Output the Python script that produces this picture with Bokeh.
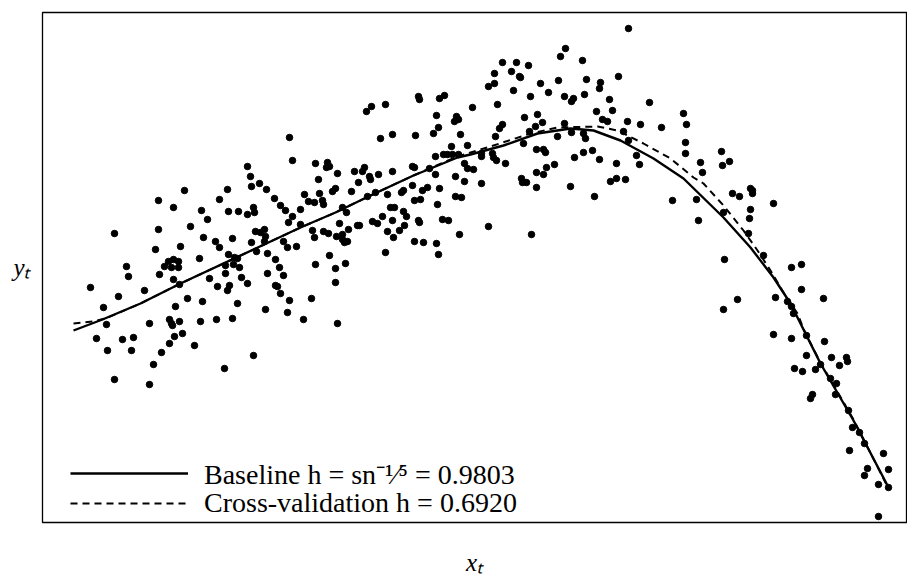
from bokeh.plotting import figure
from bokeh.models import Range1d, Legend, LegendItem, FixedTicker
from bokeh.embed import file_html
from bokeh.resources import INLINE

x_t = [247,250,72,84,116,116,131,142,113,138,148,159,165,161,157,126,131,136,122,129,
       136,173,177,177,185,186,190,196,205,208,209,217,224,211,212,205,213,218,222,209,
       223,222,214,225,233,237,186,192,195,183,191,197,232,238,243,250,258,246,241,245,
       254,262,266,272,277,280,281,273,276,285,287,284,295,290,293,258,270,272,281,286,
       294,287,273,293,297,
       86,48,76,61,64,54,65,80,91,89,72,107,111,119,102,107,117,131,137,133,
       127,129,130,137,132,140,127,152,145,160,158,167,175,174,190,182,183,185,187,199,
       205,195,211,223,225,233,235,241,238,247,245,261,269,293,295,303,
       586,518,523,540,460,474,486,452,469,477,478,446,452,471,488,498,506,516,522,529,
       531,542,544,557,558,567,570,576,376,377,397,402,324,329,343,430,455,394,414,416,
       412,396,391,338,350,373,482,495,500,493,487,460,457,453,554,560,565,585,581,586,
       522,515,529,541,543,418,425,409,405,410,416,393,401,481,494,501,503,532,541,550,
       557,574,439,439,450,451,454,422,425,431,463,512,504,501,494,413,422,439,479,480,
       484,494,528,552,568,574,583,370,372,387,393,350,336,322,320,312,316,327,328,370,
       385,380,397,361,359,345,333,325,309,413,419,395,372,378,348,352,340,361,364,350,
       330,335,315,317,304,300,376,377,400,406,446,489,417,345,357,362,351,372,381,394,
       396,343,306,300,300,305,302,
       607,598,619,641,644,643,643,594,597,679,680,687,658,660,630,654,656,681,690,697,
       708,710,710,731,708,707,706,721,682,749,759,
       759,781,733,695,681,745,749,751,731,749,764,782,764,789,804,805,797,778,773,752,
       760,788,794,793,770,768,806,810,817,822,807,841,825,822,846,836,846,836]
y_t = [385,362,289,256,322,293,315,332,273,276,296,312,303,285,264,261,263,261,256,255,
       255,281,275,323,333,311,284,311,356,346,336,339,333,315,310,308,291,290,293,280,
       286,281,271,269,263,255,268,265,264,257,258,255,324,317,312,306,313,300,281,275,
       276,328,321,320,329,322,318,359,343,360,356,355,349,331,334,298,292,285,291,289,
       286,267,258,254,299,
       246,235,226,215,198,184,172,183,185,172,143,138,158,170,232,199,248,243,238,216,
       203,199,197,201,186,189,179,177,224,221,201,244,236,203,204,154,249,232,237,245,
       239,219,167,213,249,237,236,247,229,222,210,203,224,240,199,259,
       494,466,474,462,460,460,457,449,451,446,445,436,439,432,426,439,430,442,426,421,
       424,428,443,434,440,423,412,446,426,423,424,427,411,416,418,415,418,407,406,403,
       401,395,389,384,388,387,405,408,400,396,391,398,394,386,411,403,401,401,391,382,
       399,386,390,389,384,388,377,376,368,368,368,366,368,379,373,373,370,365,370,372,
       363,359,369,366,369,365,362,359,354,353,359,358,355,348,350,346,341,339,344,340,
       340,335,336,326,341,344,343,356,355,354,348,351,348,355,351,351,340,346,343,337,
       335,332,334,332,330,328,330,326,331,326,325,318,322,323,315,315,306,311,306,302,
       301,299,297,297,310,315,302,300,303,302,296,288,288,291,292,297,285,281,280,279,
       268,270,293,288,283,281,280,
       420,398,395,409,398,380,369,367,358,371,357,361,360,350,322,323,302,310,329,326,
       334,332,329,319,313,304,289,267,263,255,258,
       233,224,225,223,213,221,216,209,188,184,187,181,167,165,165,161,157,158,153,154,
       151,144,139,128,128,124,112,95,90,79,72,69,54,47,53,38,35,6]

# kernel regression fits
baseline_x = [31,60,98,138,211,258,293,328,371,415,428,461,495,528,551,578,611,641,
              681,708,731,748,765,778,811,845]
baseline_y = [192,203,219,239,273,295,310,327,347,365,368,377,389,394,392,382,364,344,
              305,275,245,219,185,159,102,37]
cv_x = [31,50,63,98,138,211,258,293,328,371,415,448,488,515,555,575,601,628,651,661,
        681,701,715,728,741,755,763,778,811,846]
cv_y = [199,201,204,219,239,273,295,310,327,347,366,376,389,395,396,392,379,364,345,339,
        317,292,272,252,230,209,189,160,103,34]

labels = ["Baseline h = sn\u207b\u00b9\u2044\u2075 = 0.9803",
          "Cross-validation h = 0.6920"]

assert len(x_t) == len(y_t)

p = figure(width=907, height=578, output_backend="svg", toolbar_location=None,
           x_range=Range1d(0, 864), y_range=Range1d(0, 510),
           min_border_left=42, min_border_right=1, min_border_top=12, min_border_bottom=56,
           x_axis_label="x\u209c", y_axis_label="y\u209c")
p.grid.visible = False
p.outline_line_color = "black"
p.outline_line_width = 1.3
p.background_fill_color = "white"
p.border_fill_color = "white"

for ax in p.axis:
    ax.ticker = FixedTicker(ticks=[])
    ax.axis_line_color = None
    ax.major_tick_line_color = None
    ax.minor_tick_line_color = None
    ax.major_tick_out = 0
    ax.major_tick_in = 0
    ax.minor_tick_out = 0
    ax.major_label_standoff = 0
    ax.axis_label_text_font = "Liberation Serif"
    ax.axis_label_text_font_style = "italic"
    ax.axis_label_text_font_size = "25px"
    ax.axis_label_text_color = "black"
p.xaxis.axis_label_standoff = 26
p.xaxis.axis_label_text_align = "right"
p.yaxis.axis_label_standoff = 12
p.yaxis.axis_label_text_baseline = "top"
yax = p.yaxis[0]
if hasattr(yax, "axis_label_orientation"):
    yax.axis_label_orientation = "horizontal"

p.scatter(x_t, y_t, size=6.5, color="black")
r1 = p.line(baseline_x, baseline_y, line_color="black", line_width=2.4)
r2 = p.line(cv_x, cv_y, line_color="black", line_width=2.0, line_dash="7 5")

legend_style = dict(padding=0, margin=0, spacing=0,
                    glyph_width=118, glyph_height=20, label_standoff=16,
                    label_text_font="Liberation Serif", label_text_font_size="28px",
                    label_text_color="black",
                    border_line_color=None, background_fill_alpha=0)
legend_top = Legend(items=[LegendItem(label=labels[0], renderers=[r1])],
                    location=(28, 30), **legend_style)
legend_bottom = Legend(items=[LegendItem(label=labels[1], renderers=[r2])],
                       location=(28, 3), **legend_style)
p.add_layout(legend_top)
p.add_layout(legend_bottom)

open("out.html", "w").write(file_html(p, INLINE))
